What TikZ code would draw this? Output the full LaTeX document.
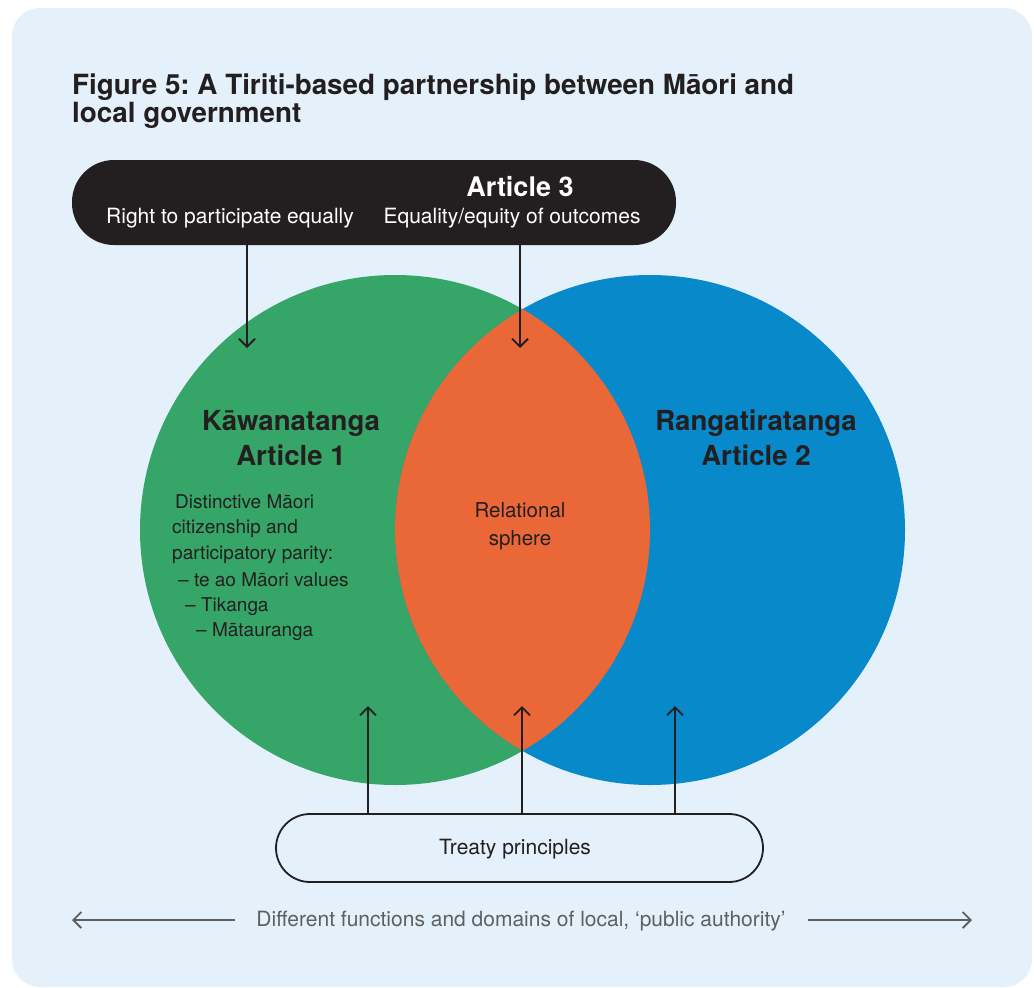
\documentclass[tikz,border=0pt]{standalone}
\usepackage{fontspec}
\setmainfont{TeX Gyre Heros}
\usetikzlibrary{arrows.meta,positioning}
\definecolor{bgblue}{HTML}{E5F1FA}
\definecolor{mgreen}{HTML}{36A668}
\definecolor{mblue}{HTML}{0789CA}
\definecolor{morange}{HTML}{EA6737}
\definecolor{pillblack}{HTML}{231F20}
\definecolor{txtdark}{HTML}{231F20}
\definecolor{greyline}{HTML}{5F5F5F}
\tikzset{
  txt/.style={inner sep=0pt, text=txtdark, font=\fontsize{19}{23}\selectfont},
  mid/.style={inner sep=0pt, text=txtdark, font=\fontsize{21}{25}\selectfont},
  head/.style={inner sep=0pt, text=txtdark, font=\bfseries\fontsize{27.6}{34}\selectfont, align=center},
  conn/.style={draw=txtdark, line width=1.8pt, -{Straight Barb[length=8pt,width=16pt,line width=1.8pt]}},
  wide/.style={draw=greyline, line width=1.8pt, -{Straight Barb[length=8pt,width=16pt,line width=1.8pt]}},
}
\frenchspacing
\begin{document}
\begin{tikzpicture}[x=1pt,y=-1pt]
\useasboundingbox (0,0) rectangle (1034,988);
\fill[white] (0,0) rectangle (1034,988);
\fill[bgblue, rounded corners=28pt] (12,8) rectangle (1032,987);

% title
\node[anchor=base west, inner sep=0pt, text=txtdark, font=\bfseries\fontsize{27.8}{28}\selectfont] (title1) at (72,94)
  {Figure 5: A Tiriti-based partnership between Māori and};
\node[anchor=base west, inner sep=0pt, text=txtdark, font=\bfseries\fontsize{27.8}{28}\selectfont] (title2) at (72,122)
  {local government};

% circles
\node[circle, fill=mgreen, minimum size=510pt, inner sep=0pt] (green) at (395,530) {};
\node[circle, fill=mblue, minimum size=510pt, inner sep=0pt] (blue) at (650,530) {};
\begin{scope}
  \clip (395,530) circle[radius=255];
  \fill[morange] (650,530) circle[radius=255];
\end{scope}

% top pill
\node[fill=pillblack, rounded corners=42pt, minimum width=604pt, minimum height=85pt, inner sep=0pt] (art3) at (374,202.5) {};
\node[anchor=base, inner sep=0pt, text=white, font=\bfseries\fontsize{27}{30}\selectfont] (art3title) at (520,196) {Article 3};
\node[anchor=base, inner sep=0pt, text=white, font=\fontsize{21}{25}\selectfont] (right) at (230,223) {Right to participate equally};
\node[anchor=base, inner sep=0pt, text=white, font=\fontsize{21}{25}\selectfont] (equal) at (512,223) {Equality/equity of outcomes};

% headings
\node[head, anchor=base] (kaw) at (291,430) {Kāwanatanga};
\node[head, anchor=base] (art1) at (291,465) {Article 1};
\node[head, anchor=base] (rang) at (756,430) {Rangatiratanga};
\node[head, anchor=base] (art2) at (756,465) {Article 2};

% body text left
\node[txt, anchor=base west] (l1) at (175,508) {Distinctive Māori};
\node[txt, anchor=base west] (l2) at (172,533) {citizenship and};
\node[txt, anchor=base west] (l3) at (172,559) {participatory parity:};
\node[txt, anchor=base west] (l4) at (178,586) {– te ao Māori values};
\node[txt, anchor=base west] (l5) at (185,611) {– Tikanga};
\node[txt, anchor=base west] (l6) at (196,636) {– Mātauranga};

% relational sphere
\node[mid, font=\fontsize{20.5}{25}\selectfont, anchor=base] (rel1) at (520,517) {Relational};
\node[mid, font=\fontsize{20.5}{25}\selectfont, anchor=base] (rel2) at (520,545) {sphere};

% treaty pill
\node[draw=txtdark, line width=1.8pt, fill=bgblue, rounded corners=34pt, minimum width=487pt, minimum height=68pt, inner sep=0pt] (treaty) at (519.5,848) {};
\node[mid, anchor=base] (treatytxt) at (515,854) {Treaty principles};

% arrows from top pill
\coordinate (a1) at (247,348);
\coordinate (a2) at (520,348);
\draw[conn] (art3.south -| a1) -- (a1);
\draw[conn] (art3.south -| a2) -- (a2);

% arrows from treaty pill
\coordinate (b1) at (368,706);
\coordinate (b2) at (522,706);
\coordinate (b3) at (675,706);
\draw[conn] (treaty.north -| b1) -- (b1);
\draw[conn] (treaty.north -| b2) -- (b2);
\draw[conn] (treaty.north -| b3) -- (b3);

% bottom text and arrows
\node[anchor=base, inner sep=0pt, text=greyline, font=\fontsize{21}{25}\selectfont] (diff) at (521,926) {Different functions and domains of local, ‘public authority’};
\coordinate (cl) at (72,920);
\coordinate (cr) at (972,920);
\draw[wide] (235,920) -- (cl);
\draw[wide] (808,920) -- (cr);
\end{tikzpicture}
\end{document}
